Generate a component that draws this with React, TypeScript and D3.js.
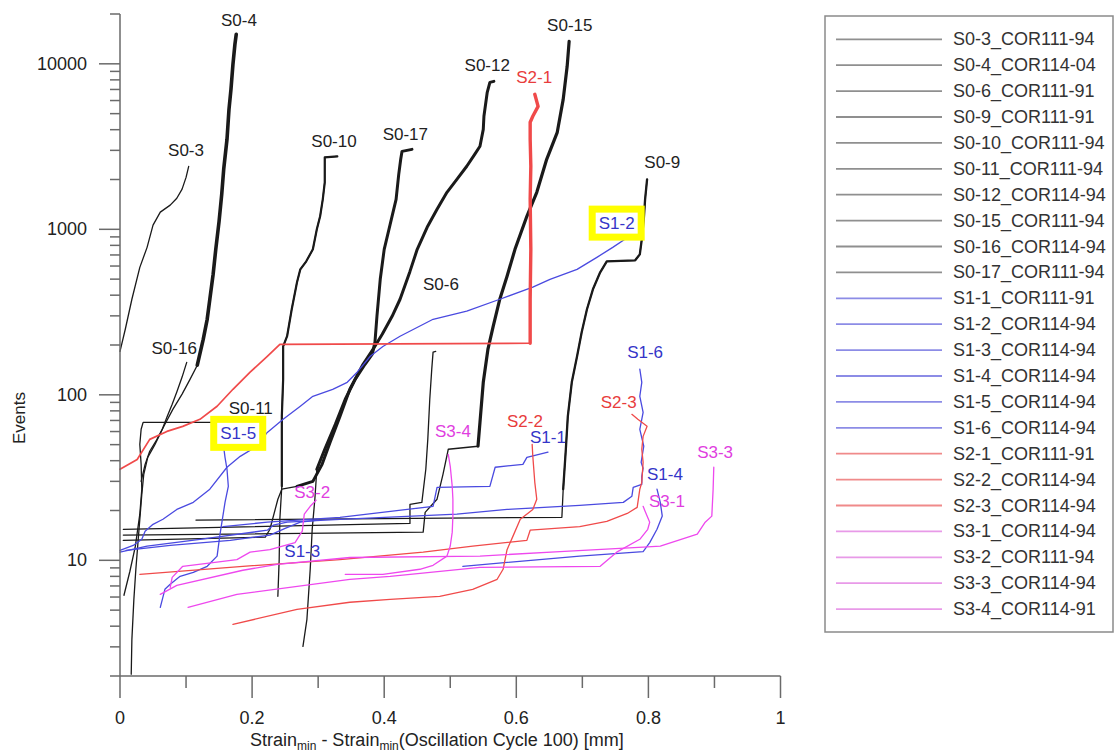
import React from "react";
import * as d3 from "d3";

type Pt = [number, number];

// Each specimen: [strain offset (mm), cumulative events]
const S0_3: Pt[] = [[0, 183], [0.008, 249], [0.018, 378], [0.03, 589], [0.041, 778], [0.05, 1060], [0.061, 1270], [0.076, 1400], [0.086, 1540], [0.094, 1750], [0.1, 2060], [0.104, 2400]];
const S0_4: Pt[] = [[0.032, 30], [0.038, 38], [0.045, 45.6], [0.056, 53.8], [0.068, 66.4], [0.08, 81.7], [0.094, 101], [0.106, 124], [0.117, 151], [0.126, 216], [0.132, 286], [0.136, 378], [0.141, 535], [0.145, 757], [0.15, 1117], [0.154, 1626], [0.157, 2306], [0.162, 3499], [0.165, 5309], [0.168, 7015], [0.171, 9931], [0.174, 13120], [0.176, 15070]];
const S0_6: Pt[] = [[0.005, 15.4], [0.439, 16.7], [0.439, 21.8], [0.457, 22.4], [0.463, 35.5], [0.466, 53.8], [0.469, 94], [0.472, 143], [0.474, 181], [0.478, 183]];
const S0_9: Pt[] = [[0.115, 17.5], [0.669, 18.2], [0.671, 26.9], [0.675, 46.9], [0.678, 74.1], [0.684, 119], [0.692, 171], [0.699, 239], [0.707, 329], [0.716, 434], [0.727, 550], [0.737, 641], [0.78, 650], [0.787, 706], [0.79, 871], [0.793, 1149], [0.795, 1517], [0.798, 2005]];
const S0_10: Pt[] = [[0.239, 6.06], [0.241, 10.1], [0.242, 17.7], [0.245, 28], [0.245, 46.9], [0.245, 74.1], [0.247, 124], [0.247, 196], [0.253, 226], [0.26, 329], [0.268, 479], [0.273, 573], [0.282, 641], [0.292, 757], [0.298, 1000], [0.303, 1199], [0.307, 1517], [0.31, 1923], [0.31, 2723], [0.329, 2761]];
const S0_11: Pt[] = [[0.006, 6.15], [0.015, 8.59], [0.023, 12], [0.03, 19], [0.033, 26.9], [0.032, 38], [0.03, 50.2], [0.032, 61.9], [0.035, 68.2], [0.156, 68.2]];
const S0_12: Pt[] = [[0.005, 13.2], [0.22, 13.8], [0.227, 15.4], [0.239, 23.4], [0.245, 26.9], [0.268, 28], [0.292, 30], [0.306, 38], [0.318, 51.6], [0.333, 74.1], [0.348, 108], [0.368, 153], [0.383, 188], [0.397, 232], [0.412, 298], [0.424, 378], [0.439, 557], [0.45, 757], [0.465, 1028], [0.48, 1321], [0.495, 1674], [0.51, 2005], [0.525, 2404], [0.537, 2838], [0.545, 3177], [0.55, 4018], [0.551, 4819], [0.556, 6730], [0.56, 7727], [0.566, 7834]];
const S0_15: Pt[] = [[0.005, 14.2], [0.459, 14.8], [0.462, 19.5], [0.48, 23.4], [0.489, 33.1], [0.497, 46.9], [0.542, 48.9], [0.545, 68.2], [0.55, 119], [0.557, 188], [0.565, 259], [0.575, 378], [0.586, 520], [0.598, 757], [0.616, 1199], [0.631, 1674], [0.646, 2649], [0.662, 3855], [0.671, 6095], [0.677, 9661], [0.68, 13680]];
const S0_16: Pt[] = [[0.017, 2.05], [0.018, 3.33], [0.021, 5.81], [0.024, 8.83], [0.027, 12.5], [0.03, 17.7], [0.033, 25], [0.036, 33.1], [0.042, 41.9], [0.053, 50.2], [0.064, 61.9], [0.071, 73.1], [0.079, 87.6], [0.086, 104], [0.094, 128], [0.101, 157]];
const S0_17: Pt[] = [[0.277, 3.02], [0.283, 4.4], [0.288, 8.83], [0.291, 15.4], [0.295, 23.4], [0.298, 35.5], [0.31, 46.9], [0.326, 66.4], [0.341, 94], [0.356, 124], [0.371, 153], [0.382, 176], [0.386, 208], [0.389, 298], [0.394, 499], [0.4, 757], [0.409, 1072], [0.418, 1517], [0.422, 2148], [0.425, 2649], [0.427, 2958], [0.442, 3042]];

const S1_1: Pt[] = [[0.156, 16], [0.223, 17], [0.333, 18.2], [0.435, 20.3], [0.474, 21.2], [0.48, 27.6], [0.56, 28], [0.568, 36.5], [0.61, 38], [0.616, 41.9], [0.648, 45]];
const S1_2: Pt[] = [[0, 11.5], [0.02, 12.3], [0.033, 13.4], [0.038, 15], [0.05, 16.5], [0.065, 17.7], [0.086, 20.3], [0.111, 22.4], [0.136, 26.9], [0.162, 36.5], [0.182, 42.5], [0.207, 48.9], [0.223, 59.3], [0.247, 71.1], [0.273, 85.3], [0.292, 98], [0.322, 108], [0.344, 119], [0.359, 137], [0.379, 171], [0.398, 196], [0.424, 226], [0.474, 286], [0.525, 320], [0.575, 378], [0.625, 447], [0.651, 499], [0.692, 573], [0.722, 677], [0.746, 778], [0.769, 895]];
const S1_3: Pt[] = [[0.009, 11.5], [0.076, 12.3], [0.167, 13.2], [0.227, 14.2], [0.25, 15.6], [0.273, 17], [0.3, 17.5]];
const S1_4: Pt[] = [[0.519, 9.2], [0.696, 10.6], [0.792, 11.3], [0.802, 12.8], [0.813, 15.4], [0.821, 18.5], [0.818, 22.4], [0.813, 26.9]];
const S1_5: Pt[] = [[0.061, 5.2], [0.068, 6.68], [0.076, 7.16], [0.091, 8], [0.111, 8.46], [0.132, 9.2], [0.147, 10.6], [0.151, 14], [0.159, 22.4], [0.164, 28], [0.162, 35.5], [0.159, 41.9], [0.157, 48.2]];
const S1_6: Pt[] = [[0, 11.2], [0.041, 12.2], [0.121, 13.4], [0.223, 15.2], [0.232, 16.3], [0.253, 17], [0.333, 17.7], [0.51, 19], [0.586, 20.3], [0.696, 21.5], [0.762, 22.4], [0.775, 24.4], [0.777, 27.6], [0.79, 28.8], [0.79, 32.2], [0.792, 36], [0.789, 39.1], [0.793, 48.9], [0.787, 61.9], [0.792, 78.4], [0.787, 98], [0.79, 119], [0.787, 143]];

const S2_1: Pt[] = [[0, 35.5], [0.026, 40.7], [0.045, 53.8], [0.071, 60.1], [0.095, 64.5], [0.121, 71.1], [0.147, 85.3], [0.171, 108], [0.197, 137], [0.223, 171], [0.242, 202], [0.621, 205], [0.621, 378], [0.622, 757], [0.621, 1517], [0.622, 2404], [0.621, 3499], [0.621, 4436], [0.625, 4819], [0.633, 5534], [0.628, 6546]];
const S2_2: Pt[] = [[0.171, 4.1], [0.268, 5.06], [0.348, 5.58], [0.409, 5.81], [0.484, 6.06], [0.534, 6.68], [0.571, 7.68], [0.58, 8.83], [0.586, 11.6], [0.595, 14], [0.606, 17.7], [0.625, 20.3], [0.631, 23.4], [0.628, 29.6], [0.625, 42.5], [0.624, 50.2]];
const S2_3: Pt[] = [[0.03, 8.23], [0.186, 9.2], [0.333, 10.1], [0.459, 11.2], [0.534, 12.2], [0.616, 13.2], [0.621, 15.2], [0.696, 16], [0.737, 17.2], [0.768, 19.2], [0.783, 20.9], [0.787, 26.9], [0.79, 29.6], [0.792, 39.1], [0.79, 46.9], [0.792, 56.1], [0.798, 64.5], [0.784, 71.1], [0.775, 76.2]];

const S3_1: Pt[] = [[0.103, 5.2], [0.177, 6.23], [0.348, 7.68], [0.409, 8], [0.545, 9.07], [0.727, 9.2], [0.752, 11.2], [0.787, 13.4], [0.799, 15.4], [0.802, 17], [0.795, 19.8], [0.792, 21.2]];
const S3_2: Pt[] = [[0.076, 6.87], [0.079, 7.89], [0.095, 9.2], [0.177, 10.1], [0.197, 11.2], [0.227, 11.6], [0.265, 12.8], [0.276, 15], [0.279, 19], [0.288, 21.2], [0.297, 23.1]];
const S3_3: Pt[] = [[0.061, 6.23], [0.086, 7.06], [0.186, 8.71], [0.238, 9.46], [0.348, 10.4], [0.545, 10.6], [0.666, 11.3], [0.792, 12], [0.818, 12.2], [0.874, 14.4], [0.886, 17], [0.896, 18.5], [0.898, 26.9], [0.899, 36.5]];
const S3_4: Pt[] = [[0.341, 8.23], [0.398, 8.23], [0.454, 8.83], [0.474, 9.33], [0.495, 10.6], [0.5, 12.2], [0.503, 14.8], [0.504, 18.5], [0.504, 23.4], [0.503, 28], [0.5, 37], [0.497, 43.7]];

// Axis ticks
const xMajorTicks = [0, 0.2, 0.4, 0.6, 0.8, 1];
const xTickLabels = ["0", "0.2", "0.4", "0.6", "0.8", "1"];
const xMinorTicks = [0.1, 0.3, 0.5, 0.7, 0.9];
const yMajorTicks = [10, 100, 1000, 10000];
const yTickLabels = ["10", "100", "1000", "10000"];

// Curve annotations (placed in data coordinates)
const curveLabels: { text: string; group: string; x: number; y: number; boxed?: boolean }[] = [
  { text: "S0-4", group: "S0", x: 0.18, y: 18300 },
  { text: "S0-3", group: "S0", x: 0.1, y: 3000 },
  { text: "S0-10", group: "S0", x: 0.324, y: 3404 },
  { text: "S0-17", group: "S0", x: 0.432, y: 3750 },
  { text: "S0-12", group: "S0", x: 0.556, y: 9795 },
  { text: "S2-1", group: "S2", x: 0.627, y: 8282 },
  { text: "S0-15", group: "S0", x: 0.681, y: 17000 },
  { text: "S0-9", group: "S0", x: 0.821, y: 2541 },
  { text: "S1-2", group: "S1", x: 0.752, y: 1090, boxed: true },
  { text: "S0-6", group: "S0", x: 0.486, y: 465 },
  { text: "S0-16", group: "S0", x: 0.082, y: 190 },
  { text: "S0-11", group: "S0", x: 0.198, y: 83 },
  { text: "S1-5", group: "S1", x: 0.179, y: 58.5, boxed: true },
  { text: "S3-4", group: "S3", x: 0.504, y: 60 },
  { text: "S2-2", group: "S2", x: 0.613, y: 69.2 },
  { text: "S1-1", group: "S1", x: 0.648, y: 55.4 },
  { text: "S1-6", group: "S1", x: 0.795, y: 180 },
  { text: "S2-3", group: "S2", x: 0.755, y: 90.1 },
  { text: "S3-3", group: "S3", x: 0.901, y: 45 },
  { text: "S1-4", group: "S1", x: 0.825, y: 33 },
  { text: "S3-1", group: "S3", x: 0.828, y: 22.6 },
  { text: "S3-2", group: "S3", x: 0.291, y: 25.6 },
  { text: "S1-3", group: "S1", x: 0.276, y: 11.3 },
];

type Series = { legend: string; group: string; data: Pt[]; baseWidth?: number; heavyFrom?: number; heavyWidth?: number };

const series: Series[] = [
  { legend: "S0-3_COR111-94", group: "S0", data: S0_3 },
  { legend: "S0-4_COR114-04", group: "S0", data: S0_4, heavyFrom: 150, heavyWidth: 3.6 },
  { legend: "S0-6_COR111-91", group: "S0", data: S0_6 },
  { legend: "S0-9_COR111-91", group: "S0", data: S0_9, heavyFrom: 26, heavyWidth: 2.3 },
  { legend: "S0-10_COR111-94", group: "S0", data: S0_10, heavyFrom: 20, heavyWidth: 2.2 },
  { legend: "S0-11_COR111-94", group: "S0", data: S0_11 },
  { legend: "S0-12_COR114-94", group: "S0", data: S0_12, heavyFrom: 28, heavyWidth: 3 },
  { legend: "S0-15_COR111-94", group: "S0", data: S0_15, heavyFrom: 48, heavyWidth: 3.2 },
  { legend: "S0-16_COR114-94", group: "S0", data: S0_16 },
  { legend: "S0-17_COR111-94", group: "S0", data: S0_17, heavyFrom: 35, heavyWidth: 3 },
  { legend: "S1-1_COR111-91", group: "S1", data: S1_1 },
  { legend: "S1-2_COR114-94", group: "S1", data: S1_2 },
  { legend: "S1-3_COR114-94", group: "S1", data: S1_3 },
  { legend: "S1-4_COR114-94", group: "S1", data: S1_4 },
  { legend: "S1-5_COR114-94", group: "S1", data: S1_5 },
  { legend: "S1-6_COR114-94", group: "S1", data: S1_6 },
  { legend: "S2-1_COR111-91", group: "S2", data: S2_1, baseWidth: 1.7, heavyFrom: 205, heavyWidth: 3.4 },
  { legend: "S2-2_COR114-94", group: "S2", data: S2_2 },
  { legend: "S2-3_COR114-94", group: "S2", data: S2_3 },
  { legend: "S3-1_COR114-94", group: "S3", data: S3_1 },
  { legend: "S3-2_COR111-94", group: "S3", data: S3_2 },
  { legend: "S3-3_COR114-94", group: "S3", data: S3_3 },
  { legend: "S3-4_COR114-91", group: "S3", data: S3_4 },
];

const lineColor: Record<string, string> = { S0: "#1a1a1a", S1: "#4a4ae0", S2: "#f04a4a", S3: "#ee48ee" };
const labelColor: Record<string, string> = { S0: "#222", S1: "#3535c8", S2: "#e83c3c", S3: "#e03ee0" };
const legendColor: Record<string, string> = { S0: "#8f8f8f", S1: "#8c8ce6", S2: "#f08a8a", S3: "#e89ae8" };

const FONT = "'Liberation Sans', Arial, Helvetica, sans-serif";

export default function App() {
  const xs = d3.scaleLinear().domain([0, 1]).range([120, 780.5]);
  const ys = d3.scaleLog().domain([2, 20000]).range([676, 14]);
  const line = d3.line<Pt>().x((d) => xs(d[0])).y((d) => ys(d[1]));

  const yMinorTicks: number[] = [];
  [1, 10, 100, 1000, 10000].forEach((dec) => {
    for (let m = 2; m <= 9; m++) {
      const v = m * dec;
      if (v >= 2 && v <= 20000) yMinorTicks.push(v);
    }
  });

  const axisColor = "#6a6a6a";
  const x0 = xs(0);
  const yBase = ys(2);

  const legendX = 825;
  const legendTop = 16;
  const legendStep = 25.9;
  const legendFirst = 39.3;

  return (
    <svg
      width={1118}
      height={752}
      style={{ position: "absolute", left: 0, top: 0, background: "#fff" }}
      fontFamily={FONT}
    >
      <rect x={0} y={0} width={1118} height={752} fill="#fff" />

      {/* curves */}
      <g fill="none" strokeLinejoin="round" strokeLinecap="round">
        {series.map((s) => {
          const base = (
            <path key={s.legend + "-b"} d={line(s.data) || ""} stroke={lineColor[s.group]} strokeWidth={s.baseWidth ?? 1.3} />
          );
          if (s.heavyFrom === undefined) return base;
          const idx = s.data.findIndex((p) => p[1] >= (s.heavyFrom as number));
          const heavy = idx >= 0 ? s.data.slice(idx) : [];
          return (
            <g key={s.legend}>
              {base}
              {heavy.length > 1 && (
                <path d={line(heavy) || ""} stroke={lineColor[s.group]} strokeWidth={s.heavyWidth} />
              )}
            </g>
          );
        })}
      </g>

      {/* curve labels */}
      <g fontSize={17} textAnchor="middle" dominantBaseline="central">
        {curveLabels.map((l) => (
          <g key={l.text}>
            {l.boxed && (
              <rect
                x={xs(l.x) - 24.5}
                y={ys(l.y) - 14}
                width={49}
                height={28}
                fill="#fff"
                stroke="#ffff00"
                strokeWidth={7}
              />
            )}
            <text x={xs(l.x)} y={ys(l.y)} fill={labelColor[l.group]}>
              {l.text}
            </text>
          </g>
        ))}
      </g>

      {/* y axis */}
      <g stroke={axisColor} strokeWidth={1.5}>
        <line x1={x0} y1={ys(20000)} x2={x0} y2={yBase} />
        {yMajorTicks.map((t) => (
          <line key={"ym" + t} x1={x0 - 21} x2={x0} y1={ys(t)} y2={ys(t)} />
        ))}
        {yMinorTicks.map((t) => (
          <line key={"yn" + t} x1={x0 - 10} x2={x0} y1={ys(t)} y2={ys(t)} />
        ))}
      </g>
      <g fontSize={18} fill="#222" textAnchor="end" dominantBaseline="central">
        {yMajorTicks.map((t, i) => (
          <text key={"yl" + t} x={87} y={ys(t)}>
            {yTickLabels[i]}
          </text>
        ))}
      </g>
      <text
        transform={`translate(19,418) rotate(-90)`}
        textAnchor="middle"
        dominantBaseline="central"
        fontSize={17}
        fill="#222"
      >
        Events
      </text>

      {/* x axis */}
      <g stroke={axisColor} strokeWidth={1.5}>
        <line x1={x0} y1={yBase} x2={xs(1)} y2={yBase} />
        {xMajorTicks.map((t) => (
          <line key={"xm" + t} x1={xs(t)} x2={xs(t)} y1={yBase} y2={yBase + 22} />
        ))}
        {xMinorTicks.map((t) => (
          <line key={"xn" + t} x1={xs(t)} x2={xs(t)} y1={yBase} y2={yBase + 12} />
        ))}
      </g>
      <g fontSize={18} fill="#222" textAnchor="middle">
        {xMajorTicks.map((t, i) => (
          <text key={"xl" + t} x={xs(t)} y={724}>
            {xTickLabels[i]}
          </text>
        ))}
      </g>
      <text x={250} y={746} fontSize={18} fill="#222">
        Strain
        <tspan fontSize={12} dy={4}>min</tspan>
        <tspan dy={-4}> - Strain</tspan>
        <tspan fontSize={12} dy={4}>min</tspan>
        <tspan dy={-4}>(Oscillation Cycle 100) [mm]</tspan>
      </text>

      {/* legend */}
      <rect x={legendX} y={legendTop} width={288} height={616} fill="#fff" stroke="#8a8a8a" strokeWidth={1.5} />
      {series.map((s, i) => {
        const yy = legendFirst + i * legendStep;
        return (
          <g key={"lg" + s.legend}>
            <line x1={836} x2={942} y1={yy} y2={yy} stroke={legendColor[s.group]} strokeWidth={1.8} />
            <text x={953} y={yy} fontSize={18} fill="#333" dominantBaseline="central">
              {s.legend}
            </text>
          </g>
        );
      })}
    </svg>
  );
}
